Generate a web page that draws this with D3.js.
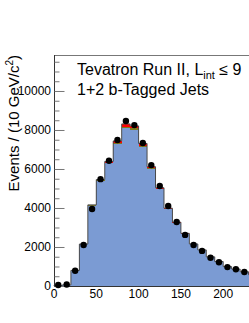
<!DOCTYPE html>
<html>
<head>
<meta charset="utf-8">
<script src="https://cdn.jsdelivr.net/npm/d3@7"></script>
<style>
body{margin:0;background:#fff;}
text{font-family:"Liberation Sans",Arial,sans-serif;}
</style>
</head>
<body>
<svg width="249" height="323"></svg>
<script>
// bins: 10 GeV wide, lower edges
var binLow = [0,10,20,30,40,50,60,70,80,90,100,110,120,130,140,150,160,170,180,190,200,210,220,230];
// observed data
var dataVals = [50,80,780,2100,3950,5480,6420,7490,8460,8250,7330,6200,5130,4100,3280,2620,2100,1800,1450,1220,970,860,720,600];
// stacked prediction
var bkgVals = [30,60,790,2130,4120,5390,6290,7290,8100,8020,7150,6000,4960,3940,3240,2680,2140,1840,1490,1250,990,870,730,580];
var otherVals = [0,0,5,10,20,30,40,50,60,60,50,40,30,20,15,10,10,5,5,5,5,0,0,0];
var sigVals = [0,0,5,10,20,40,60,100,150,130,110,80,50,30,15,10,5,5,0,0,0,0,0,0];
var yTicks = [0,2000,4000,6000,8000,10000];
var xTicks = [0,50,100,150,200];

var svg = d3.select("svg");
var x = d3.scaleLinear().domain([0,300]).range([54,54+300*0.846]);
var y = d3.scaleLinear().domain([0,11846]).range([286,55]);

//stack
var rows = binLow.map(function(b,i){ return {x:b, bkg:bkgVals[i], other:otherVals[i], sig:sigVals[i]}; });
var stack = d3.stack().keys(["bkg","other","sig"])(rows);
var colors = {bkg:"#7b9bd3", other:"#7f7a1e", sig:"#ff0000"};

var g = svg.append("g");
stack.forEach(function(layer){
  g.selectAll(null).data(layer).enter().append("rect")
    .attr("x", function(d){ return x(d.data.x); })
    .attr("width", function(d){ return x(d.data.x+10)-x(d.data.x); })
    .attr("y", function(d){ return y(d[1]); })
    .attr("height", function(d){ return y(d[0])-y(d[1]); })
    .attr("fill", colors[layer.key])
    .attr("shape-rendering","crispEdges");
});

// outline of the stack
var topLayer = stack[stack.length-1];
var pts = [[0,0]];
topLayer.forEach(function(d){ pts.push([d.data.x,d[1]]); pts.push([d.data.x+10,d[1]]); });
svg.append("path")
  .attr("d", d3.line().x(function(p){return x(p[0]);}).y(function(p){return y(p[1]);})(pts))
  .attr("fill","none").attr("stroke","#4a4a4a").attr("stroke-width",1);

// frame
svg.append("line").attr("x1",54).attr("x2",249).attr("y1",55.5).attr("y2",55.5).attr("stroke","#777");
svg.append("line").attr("x1",54).attr("x2",249).attr("y1",286.5).attr("y2",286.5).attr("stroke","#333");

// y axis
var yAxis = d3.axisRight(y).tickValues(d3.range(0,11846,500))
  .tickSize(5).tickFormat("");
var ya = svg.append("g").attr("transform","translate(54.5,0)").call(yAxis);
ya.selectAll(".tick line").attr("stroke","#777")
  .attr("x2", function(d){ return yTicks.indexOf(d)>=0 ? 10 : 5; });
ya.select(".domain").attr("stroke","#333").attr("d","M0,55V286");
svg.append("g").selectAll("text").data(yTicks).enter().append("text")
  .attr("x",51).attr("y",function(d){return y(d)+4;})
  .attr("text-anchor","end").attr("font-size",12).text(function(d){return d;});

// x labels
svg.append("g").selectAll("text").data(xTicks).enter().append("text")
  .attr("x",function(d){return x(d);}).attr("y",298)
  .attr("text-anchor","middle").attr("font-size",12).text(function(d){return d;});

// data points
var pg = svg.append("g");
pg.selectAll("line").data(dataVals).enter().append("line")
  .attr("x1",function(d,i){return x(binLow[i]+5);}).attr("x2",function(d,i){return x(binLow[i]+5);})
  .attr("y1",function(d){return y(d+Math.sqrt(d));}).attr("y2",function(d){return y(d-Math.sqrt(d));})
  .attr("stroke","#000");
pg.selectAll("circle").data(dataVals).enter().append("circle")
  .attr("cx",function(d,i){return x(binLow[i]+5);})
  .attr("cy",function(d){return y(d);})
  .attr("r",3.2).attr("fill","#000");

// y title
var yt = svg.append("text").attr("transform","translate(19,55) rotate(-90)")
  .attr("text-anchor","end").attr("font-size",15);
yt.append("tspan").text("Events / (10 GeV/c");
yt.append("tspan").attr("font-size",10).attr("dy",-6).text("2");
yt.append("tspan").attr("dy",6).text(")");

// legend text
var t1 = svg.append("text").attr("x",77).attr("y",75).attr("font-size",16);
t1.append("tspan").text("Tevatron Run II, L");
t1.append("tspan").attr("font-size",11).attr("dy",4).text("int");
t1.append("tspan").attr("dy",-4).text(" \u2264 9");
svg.append("text").attr("x",77).attr("y",95).attr("font-size",16).text("1+2 b-Tagged Jets");
</script>
</body>
</html>
